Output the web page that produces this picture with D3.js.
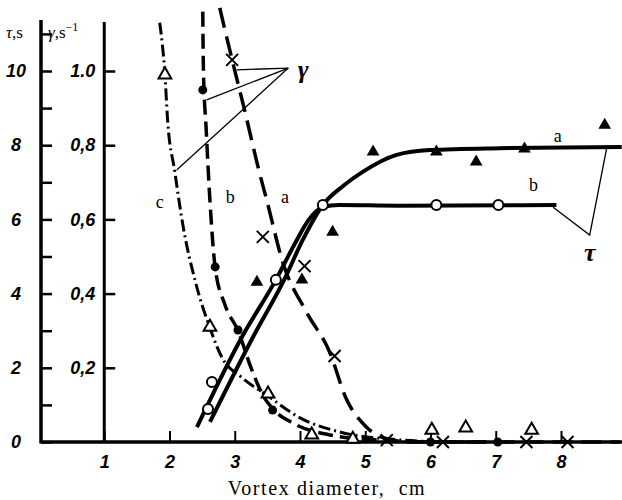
<!DOCTYPE html>
<html>
<head>
<meta charset="utf-8">
<script src="https://cdn.jsdelivr.net/npm/d3@7"></script>
<style>
  body { margin: 0; background: #fff; }
  .tick-num { font-family: "Liberation Sans", Arial, sans-serif; font-weight: bold; font-style: italic; }
  .serif { font-family: "Liberation Serif", "Times New Roman", serif; }
</style>
</head>
<body>
<div id="vis"></div>
<script>
// tick values and labels
const X_TICKS = [1, 2, 3, 4, 5, 6, 7, 8];
const TAU_TICKS = [0, 1, 2, 3, 4, 5, 6, 7, 8, 9, 10, 11];
const TAU_LABELS = [0, 2, 4, 6, 8, 10];
const GAMMA_TICKS = [0.2, 0.4, 0.6, 0.8, 1.0];
const GAMMA_LABELS = ["0,2", "0,4", "0,6", "0,8", "1.0"];

// tau curves (seconds)
const TAU_A_LINE = [[2.62, 0.54], [3.28, 2.83], [3.77, 4.42], [4.04, 5.44], [4.35, 6.39], [4.66, 6.9],
                    [4.96, 7.28], [5.48, 7.74], [5.99, 7.87], [7.06, 7.92], [8.93, 7.95]];
const TAU_B_LINE = [[2.42, 0.40], [3.11, 2.83], [3.63, 4.37], [3.95, 5.44], [4.13, 5.98], [4.35, 6.33],
                    [4.6, 6.39], [5.5, 6.37], [7.93, 6.39]];
const TAU_A_POINTS = [[3.34, 4.31], [4.03, 4.37], [4.5, 5.66], [5.12, 7.82], [6.09, 7.82],
                      [6.7, 7.55], [7.44, 7.9], [8.67, 8.54]];
const TAU_B_POINTS = [[2.59, 0.89], [2.65, 1.62], [3.63, 4.37], [4.35, 6.39], [6.09, 6.39], [7.04, 6.39]];

// gamma curves (1/s)
const GAMMA_A_LINE = [[2.77, 1.17], [2.96, 1.03], [3.15, 0.895], [3.38, 0.725], [3.49, 0.652], [3.74, 0.482],
                      [4.1, 0.35], [4.46, 0.24], [4.7, 0.12], [5.02, 0.04], [5.3, 0.01], [5.7, 0], [8.9, 0]];
const GAMMA_B_LINE = [[2.51, 1.16], [2.52, 1.0], [2.56, 0.85], [2.62, 0.65], [2.70, 0.47], [2.85, 0.37],
                      [3.05, 0.30], [3.25, 0.20], [3.45, 0.12], [3.58, 0.09], [3.9, 0.05], [4.46, 0.019],
                      [5.2, 0.005], [6.0, 0], [7.2, 0]];
const GAMMA_C_LINE = [[1.85, 1.13], [1.93, 0.99], [1.97, 0.87], [2.08, 0.73], [2.21, 0.58], [2.4, 0.43],
                      [2.62, 0.307], [2.8, 0.229], [3.1, 0.175], [3.5, 0.125], [4.0, 0.065], [4.61, 0.027],
                      [5.5, 0.006], [6.2, 0]];
const GAMMA_A_POINTS = [[2.96, 1.03], [3.43, 0.553], [4.07, 0.474], [4.53, 0.232], [5.33, 0.005],
                        [6.19, 0], [7.47, 0], [8.1, 0]];
const GAMMA_B_POINTS = [[2.51, 0.949], [2.70, 0.472], [3.05, 0.302], [3.58, 0.086], [6.0, 0], [7.03, 0]];
const GAMMA_C_POINTS = [[1.93, 0.99], [2.62, 0.31], [3.51, 0.13], [4.18, 0.019], [4.81, 0.008],
                        [6.02, 0.032], [6.54, 0.038], [7.55, 0.032]];

// frame
const FRAME_WIDTH = 622;
const FRAME_HEIGHT = 500;

const FRAME = d3.select("#vis")
                .append("svg")
                  .attr("width", FRAME_WIDTH)
                  .attr("height", FRAME_HEIGHT);

// scales (same pixel range for tau and gamma)
const X_SCALE = d3.scaleLinear().domain([0, 8]).range([39, 561]);
const TAU_SCALE = d3.scaleLinear().domain([0, 10]).range([442, 71]);
const GAMMA_SCALE = d3.scaleLinear().domain([0, 1]).range([442, 71]);

const Y0 = TAU_SCALE(0);
const TAU_X = 41;
const GAMMA_X = X_SCALE(1);

// tau axis
const tauAxis = FRAME.append("g")
  .attr("transform", "translate(" + TAU_X + ",0)")
  .call(d3.axisLeft(TAU_SCALE)
          .tickValues(TAU_TICKS)
          .tickSizeInner(-11)
          .tickSizeOuter(0)
          .tickFormat((d) => TAU_LABELS.includes(d) ? d : ""));
tauAxis.select(".domain").remove();
tauAxis.selectAll("line").attr("stroke-width", 2.5);
tauAxis.selectAll("text")
  .attr("class", "tick-num")
  .attr("font-size", 18)
  .attr("text-anchor", "middle")
  .attr("x", -25);

// gamma axis
const gammaAxis = FRAME.append("g")
  .attr("transform", "translate(" + GAMMA_X + ",0)")
  .call(d3.axisLeft(GAMMA_SCALE)
          .tickValues(GAMMA_TICKS)
          .tickSizeInner(-11)
          .tickSizeOuter(0)
          .tickFormat((d, i) => GAMMA_LABELS[i]));
gammaAxis.select(".domain").remove();
gammaAxis.selectAll("line").attr("stroke-width", 2.5);
gammaAxis.selectAll("text")
  .attr("class", "tick-num")
  .attr("font-size", 18)
  .attr("text-anchor", "end")
  .attr("x", -9);

// x axis
const xAxis = FRAME.append("g")
  .attr("transform", "translate(0," + Y0 + ")")
  .call(d3.axisBottom(X_SCALE)
          .tickValues(X_TICKS)
          .tickSizeInner(-11)
          .tickSizeOuter(0)
          .tickPadding(13)
          .tickFormat(d3.format("d")));
xAxis.select(".domain").remove();
xAxis.selectAll("line").attr("stroke-width", 2);
xAxis.selectAll("text")
  .attr("class", "tick-num")
  .attr("font-size", 18);

// axis lines
FRAME.append("line").attr("x1", TAU_X).attr("x2", TAU_X).attr("y1", 20).attr("y2", Y0 + 1.5)
  .attr("stroke", "#000").attr("stroke-width", 3.5);
FRAME.append("line").attr("x1", GAMMA_X).attr("x2", GAMMA_X).attr("y1", 22).attr("y2", Y0)
  .attr("stroke", "#000").attr("stroke-width", 3);
FRAME.append("line").attr("x1", TAU_X).attr("x2", FRAME_WIDTH).attr("y1", Y0).attr("y2", Y0)
  .attr("stroke", "#000").attr("stroke-width", 3.5);

// axis headers
FRAME.append("text").attr("class", "serif").attr("x", 6).attr("y", 38)
  .attr("font-size", 17)
  .html('<tspan font-style="italic">τ</tspan>,s');
FRAME.append("text").attr("class", "serif").attr("x", 48).attr("y", 38)
  .attr("font-size", 17)
  .html('<tspan font-style="italic">γ</tspan>,s<tspan dy="-7" font-size="12">−1</tspan>');

// x title
FRAME.append("text").attr("class", "serif")
  .attr("x", 327).attr("y", 495)
  .attr("text-anchor", "middle")
  .attr("font-size", 20)
  .attr("letter-spacing", 1.6)
  .attr("xml:space", "preserve")
  .text("Vortex diameter,  cm");

// line generators
const tauLine = d3.line()
  .x((d) => X_SCALE(d[0]))
  .y((d) => TAU_SCALE(d[1]))
  .curve(d3.curveMonotoneX);
const gammaLine = d3.line()
  .x((d) => X_SCALE(d[0]))
  .y((d) => GAMMA_SCALE(d[1]))
  .curve(d3.curveMonotoneX);

// gamma lines
FRAME.append("path").datum(GAMMA_A_LINE).attr("d", gammaLine)
  .attr("fill", "none").attr("stroke", "#000").attr("stroke-width", 3.5)
  .attr("stroke-dasharray", "20,9");
FRAME.append("path").datum(GAMMA_B_LINE).attr("d", gammaLine)
  .attr("fill", "none").attr("stroke", "#000").attr("stroke-width", 3.5)
  .attr("stroke-dasharray", "15,7");
FRAME.append("path").datum(GAMMA_C_LINE).attr("d", gammaLine)
  .attr("fill", "none").attr("stroke", "#000").attr("stroke-width", 3)
  .attr("stroke-dasharray", "12,4,2,4");

// tau lines
FRAME.append("path").datum(TAU_A_LINE).attr("d", tauLine)
  .attr("fill", "none").attr("stroke", "#000").attr("stroke-width", 4);
FRAME.append("path").datum(TAU_B_LINE).attr("d", tauLine)
  .attr("fill", "none").attr("stroke", "#000").attr("stroke-width", 4);

// markers
const triangle = d3.symbol().type(d3.symbolTriangle).size(70);

FRAME.selectAll(".tri-a")
  .data(TAU_A_POINTS)
  .enter()
  .append("path")
    .attr("class", "tri-a")
    .attr("d", triangle)
    .attr("transform", (d) => "translate(" + X_SCALE(d[0]) + "," + TAU_SCALE(d[1]) + ")")
    .attr("fill", "#000");

FRAME.selectAll(".circ-b")
  .data(TAU_B_POINTS)
  .enter()
  .append("circle")
    .attr("class", "circ-b")
    .attr("cx", (d) => X_SCALE(d[0]))
    .attr("cy", (d) => TAU_SCALE(d[1]))
    .attr("r", 5)
    .attr("fill", "#fff")
    .attr("stroke", "#000")
    .attr("stroke-width", 2);

FRAME.selectAll(".tri-c")
  .data(GAMMA_C_POINTS)
  .enter()
  .append("path")
    .attr("class", "tri-c")
    .attr("d", triangle)
    .attr("transform", (d) => "translate(" + X_SCALE(d[0]) + "," + GAMMA_SCALE(d[1]) + ")")
    .attr("fill", "#fff")
    .attr("stroke", "#000")
    .attr("stroke-width", 2);

FRAME.selectAll(".dot-b")
  .data(GAMMA_B_POINTS)
  .enter()
  .append("circle")
    .attr("class", "dot-b")
    .attr("cx", (d) => X_SCALE(d[0]))
    .attr("cy", (d) => GAMMA_SCALE(d[1]))
    .attr("r", 4.5)
    .attr("fill", "#000");

FRAME.selectAll(".cross-a")
  .data(GAMMA_A_POINTS)
  .enter()
  .append("path")
    .attr("class", "cross-a")
    .attr("d", "M-6,-6L6,6M-6,6L6,-6")
    .attr("transform", (d) => "translate(" + X_SCALE(d[0]) + "," + GAMMA_SCALE(d[1]) + ")")
    .attr("stroke", "#000")
    .attr("stroke-width", 2);

// annotation leaders for gamma
const GAMMA_TIP = [3.82, 1.008];
const GAMMA_ENDS = [[3.03, 1.003], [2.57, 0.922], [2.11, 0.733]];
GAMMA_ENDS.forEach((e) => {
  FRAME.append("line")
    .attr("x1", X_SCALE(GAMMA_TIP[0])).attr("y1", GAMMA_SCALE(GAMMA_TIP[1]))
    .attr("x2", X_SCALE(e[0])).attr("y2", GAMMA_SCALE(e[1]))
    .attr("stroke", "#000").attr("stroke-width", 1.3);
});
FRAME.append("text").attr("class", "serif")
  .attr("x", X_SCALE(4.05)).attr("y", GAMMA_SCALE(1.0) + 7)
  .attr("text-anchor", "middle")
  .attr("font-size", 26).attr("font-style", "italic").attr("font-weight", "bold")
  .text("γ");

// annotation leaders for tau
const TAU_LEADER = [[7.88, 6.33], [8.44, 5.58], [8.7, 7.92]];
FRAME.append("path")
  .attr("d", d3.line().x((d) => X_SCALE(d[0])).y((d) => TAU_SCALE(d[1]))(TAU_LEADER))
  .attr("fill", "none").attr("stroke", "#000").attr("stroke-width", 1.3);
FRAME.append("text").attr("class", "serif")
  .attr("x", X_SCALE(8.44)).attr("y", TAU_SCALE(5.09) + 8)
  .attr("text-anchor", "middle")
  .attr("font-size", 26).attr("font-style", "italic").attr("font-weight", "bold")
  .text("τ");

// curve letters
const CURVE_LABELS = [
  {t: "c", x: 1.85, y: 6.47},
  {t: "b", x: 2.93, y: 6.6},
  {t: "a", x: 3.77, y: 6.6},
  {t: "a", x: 7.95, y: 8.25},
  {t: "b", x: 7.58, y: 6.93}
];
FRAME.selectAll(".curve-label")
  .data(CURVE_LABELS)
  .enter()
  .append("text")
    .attr("class", "serif curve-label")
    .attr("x", (d) => X_SCALE(d.x))
    .attr("y", (d) => TAU_SCALE(d.y) + 6)
    .attr("text-anchor", "middle")
    .attr("font-size", 18)
    .text((d) => d.t);
</script>
</body>
</html>
